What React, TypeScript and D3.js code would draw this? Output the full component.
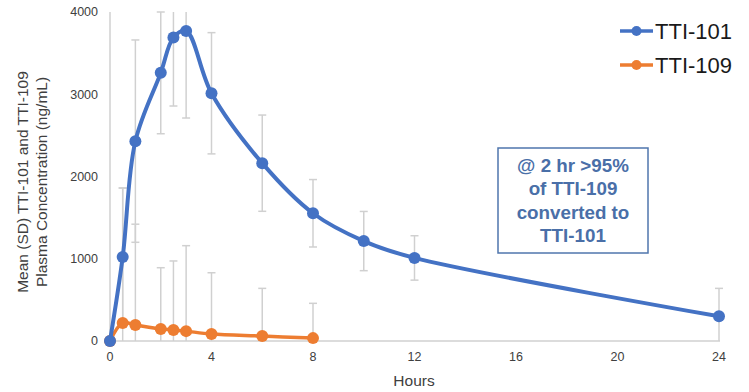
import * as d3 from "d3";

const hours = [0, 0.5, 1, 2, 2.5, 3, 4, 6, 8, 10, 12, 24];
const tti101 = [0, 1020, 2430, 3260, 3690, 3770, 3012, 2162, 1553, 1215, 1010, 300];
const tti101Sd = [0, 840, 1230, 740, 833, 1059, 737, 585, 410, 360, 270, 340];
const hours109 = [0, 0.5, 1, 2, 2.5, 3, 4, 6, 8];
const tti109 = [0, 220, 195, 145, 135, 120, 85, 60, 35];
const tti109Sd = [0, 1640, 1225, 746, 838, 1039, 745, 580, 423];
const xTicks = [0, 4, 8, 12, 16, 20, 24];
const yTicks = [0, 1000, 2000, 3000, 4000];
const noteLines = ["@ 2 hr >95%", "of TTI-109", "converted to", "TTI-101"];

const BLUE = "#4472C4";
const ORANGE = "#ED7D31";
const GREY = "#D0D0D0";
const TXT = "#404040";

export default function App() {
  const w = 749, h = 392;
  const x = d3.scaleLinear().domain([0, 24]).range([110, 719]);
  const y = d3.scaleLinear().domain([0, 4000]).range([341, 12]);

  const line = d3.line<[number, number]>()
    .x((d) => x(d[0]))
    .y((d) => y(d[1]))
    .curve(d3.curveCatmullRom);

  const errBars = (xs: number[], vals: number[], sds: number[], key: string) =>
    xs.map((t, i) => {
      if (!sds[i]) return null;
      const hi = vals[i] + sds[i];
      const lo = vals[i] - sds[i];
      const yHi = y(Math.min(hi, 4000));
      const yLo = y(Math.max(lo, 0));
      const cx = x(t);
      return (
        <g key={key + i} stroke={GREY} strokeWidth={1.5}>
          <line x1={cx} x2={cx} y1={yHi} y2={yLo} />
          {hi <= 4000 && <line x1={cx - 4} x2={cx + 4} y1={yHi} y2={yHi} />}
          {lo >= 0 && <line x1={cx - 4} x2={cx + 4} y1={yLo} y2={yLo} />}
        </g>
      );
    });

  const pts101 = hours.map((t, i) => [t, tti101[i]] as [number, number]);
  const pts109 = hours109.map((t, i) => [t, tti109[i]] as [number, number]);

  return (
    <svg width={w} height={h} style={{ position: "absolute", left: 0, top: 0, background: "#fff" }}
      fontFamily="'Liberation Sans', Arial, sans-serif">
      {/* axes */}
      <line x1={x(0)} x2={x(0)} y1={y(4000)} y2={y(0)} stroke={GREY} strokeWidth={1.5} />
      <line x1={x(0)} x2={x(24) + 1} y1={y(0)} y2={y(0)} stroke={GREY} strokeWidth={1.5} />
      {yTicks.map((v) => (
        <text key={"y" + v} x={98} y={y(v)} dy="0.35em" textAnchor="end" fontSize={12.5} fill={TXT}>{v}</text>
      ))}
      {xTicks.map((v) => (
        <text key={"x" + v} x={x(v)} y={357} dy="0.35em" textAnchor="middle" fontSize={12.5} fill={TXT}>{v}</text>
      ))}
      <text x={414} y={381} dy="0.35em" textAnchor="middle" fontSize={15.5} fill={TXT}>Hours</text>
      <g transform="translate(0,182) rotate(-90)" fontSize={15.5} fill={TXT} textAnchor="middle">
        <text x={0} y={23} dy="0.35em">Mean (SD) TTI-101 and TTI-109</text>
        <text x={0} y={42} dy="0.35em">Plasma Concentration (ng/mL)</text>
      </g>

      {/* error bars */}
      {errBars(hours109, tti109, tti109Sd, "e9")}
      {errBars(hours, tti101, tti101Sd, "e1")}

      {/* series */}
      <path d={line(pts109) || ""} fill="none" stroke={ORANGE} strokeWidth={3.5} />
      {pts109.map((p, i) => (
        <circle key={"o" + i} cx={x(p[0])} cy={y(p[1])} r={6} fill={ORANGE} />
      ))}
      <path d={line(pts101) || ""} fill="none" stroke={BLUE} strokeWidth={4} />
      {pts101.map((p, i) => (
        <circle key={"b" + i} cx={x(p[0])} cy={y(p[1])} r={6} fill={BLUE} />
      ))}

      {/* legend */}
      {[["TTI-101", BLUE, 31], ["TTI-109", ORANGE, 65]].map(([name, col, ly]) => (
        <g key={name as string}>
          <line x1={620} x2={653} y1={ly as number} y2={ly as number} stroke={col as string} strokeWidth={3.5} />
          <circle cx={636.5} cy={ly as number} r={5} fill={col as string} />
          <text x={655} y={ly as number} dy="0.35em" fontSize={22} fill="#1a1a1a">{name}</text>
        </g>
      ))}

      {/* note box */}
      <rect x={498} y={148} width={150} height={105} fill="#fff" stroke="#4F76AD" strokeWidth={1.5} />
      {noteLines.map((s, i) => (
        <text key={"n" + i} x={573} y={165 + i * 23.5} dy="0.35em" textAnchor="middle"
          fontSize={18.8} fontWeight="bold" fill="#4A6FA8">{s}</text>
      ))}
    </svg>
  );
}
